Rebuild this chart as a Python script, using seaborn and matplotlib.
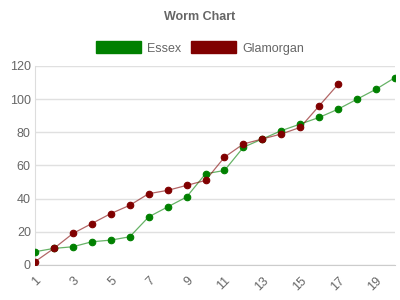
import matplotlib
matplotlib.use("Agg")
import matplotlib.pyplot as plt
import seaborn as sns
import pandas as pd
from matplotlib.patches import Patch

overs_essex = list(range(1, 21))
essex = [8, 10, 11, 14, 15, 17, 29, 35, 41, 55, 57, 71, 76, 81, 85, 89, 94, 100, 106, 113]
overs_glam = list(range(1, 18))
glamorgan = [2, 10, 19, 25, 31, 36, 43, 45, 48, 51, 65, 73, 76, 79, 83, 96, 109]
series_names = ["Essex", "Glamorgan"]
colors = ["#008000", "#800000"]
x_ticks = list(range(1, 21, 2))
y_ticks = [0, 20, 40, 60, 80, 100, 120]

df = pd.concat([
    pd.DataFrame({"over": overs_essex, "runs": essex, "team": series_names[0]}),
    pd.DataFrame({"over": overs_glam, "runs": glamorgan, "team": series_names[1]}),
])

sns.set_style("white")
plt.rcParams['font.family'] = ['Liberation Sans', 'DejaVu Sans']

fig = plt.figure(figsize=(4, 3), dpi=100)
ax = fig.add_axes([0.0875, 0.1167, 0.9, 0.6633])

for name, col in zip(series_names, colors):
    sub = df[df.team == name]
    sns.lineplot(data=sub, x="over", y="runs", ax=ax, color=col, alpha=0.6,
                 linewidth=0.9, legend=False)
    sns.scatterplot(data=sub, x="over", y="runs", ax=ax, color=col, s=22,
                    edgecolor=col, linewidth=0.8, legend=False, zorder=3)

ax.set_xlim(1, 20)
ax.set_ylim(0, 120)
ax.set_xticks(x_ticks)
ax.set_yticks(y_ticks)
ax.set_xlabel("")
ax.set_ylabel("")
ax.grid(axis="y", color="#e0e0e0", linewidth=1)
ax.set_axisbelow(True)
for s in ["top", "right"]:
    ax.spines[s].set_visible(False)
ax.spines["left"].set_color("#dddddd")
ax.spines["bottom"].set_color("#cccccc")
ax.tick_params(axis="both", colors="#666666", labelsize=9, length=0, pad=3)
ax.tick_params(axis="x", length=4, color="#cccccc")
for lbl in ax.get_xticklabels():
    lbl.set_rotation(45)
    lbl.set_ha("right")
    lbl.set_va("top")
    lbl.set_rotation_mode("anchor")

fig.text(0.5, 0.943, "Worm Chart", ha="center", va="center", fontsize=9,
         fontweight="bold", color="#666666")
handles = [Patch(facecolor=c, edgecolor=c, label=n) for n, c in zip(series_names, colors)]
fig.legend(handles=handles, loc="center", bbox_to_anchor=(0.5, 0.84), ncol=2,
           frameon=False, handlelength=3.6, handleheight=1.1, handletextpad=0.5,
           columnspacing=0.8, prop={"size": 9}, labelcolor="#666666")

fig.savefig("out.png", dpi=100)
